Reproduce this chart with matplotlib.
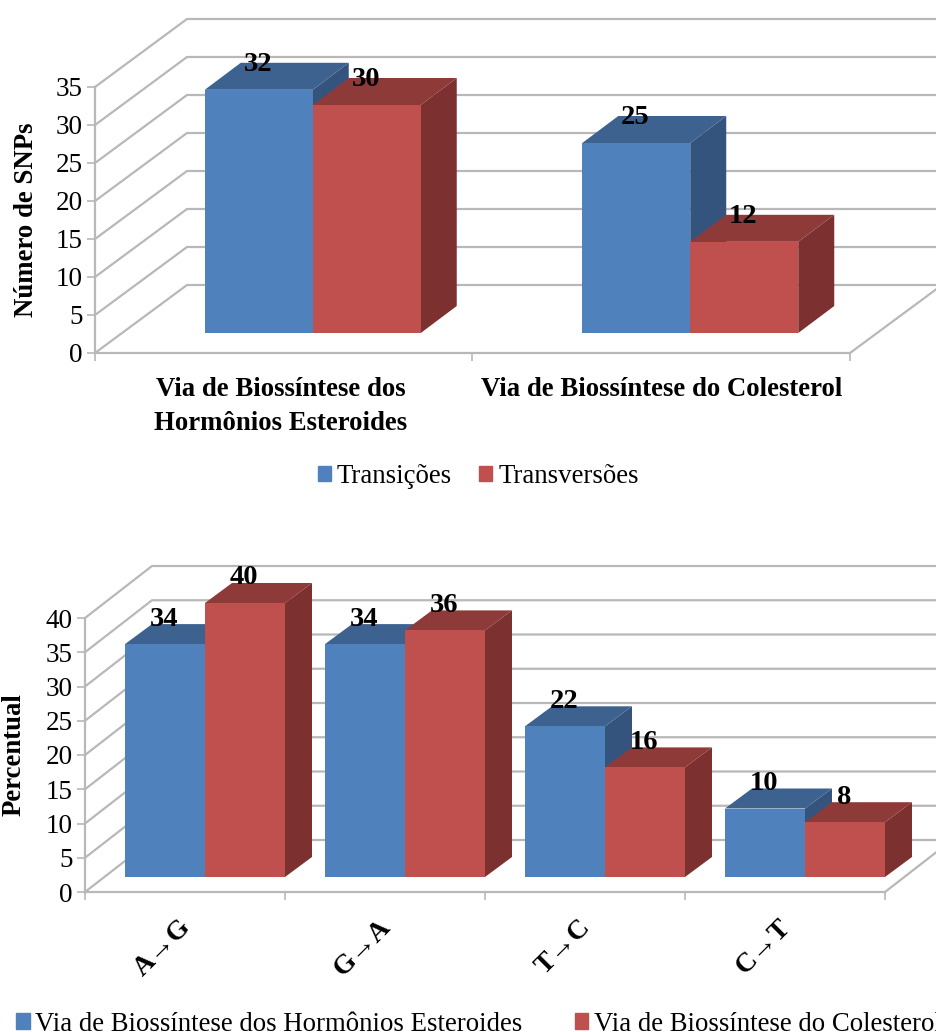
import matplotlib
matplotlib.use("Agg")
import matplotlib.pyplot as plt
from matplotlib.patches import Patch, Polygon
from matplotlib.transforms import ScaledTranslation

plt.rcParams['font.family'] = ['Liberation Serif', 'DejaVu Sans']

FIG_W = 937
FIG_H = 1032

BLUE = ('#4F81BD', '#3E6290', '#34547E')
RED = ('#C0504D', '#8E3A38', '#7C3130')
GRID = '#B8B8B8'

# top chart
snp_categories = ['Via de Biossíntese dos\nHormônios Esteroides', 'Via de Biossíntese do Colesterol']
snp_series = ['Transições', 'Transversões']
snp_transicoes = [32, 25]
snp_transversoes = [30, 12]
snp_ticks = [0, 5, 10, 15, 20, 25, 30, 35]

# bottom chart
pct_categories = ['A→G', 'G→A', 'T→C', 'C→T']
pct_series = ['Via de Biossíntese dos Hormônios Esteroides', 'Via de Biossíntese do Colesterol']
pct_hormonios = [34, 34, 22, 10]
pct_colesterol = [40, 36, 16, 8]
pct_ticks = [0, 5, 10, 15, 20, 25, 30, 35, 40]


def add_axes_px(left, right, top, bottom):
    return plt.gcf().add_axes([left / FIG_W, 1 - bottom / FIG_H,
                               (right - left) / FIG_W, (bottom - top) / FIG_H])


def draw_chart(ax, width_px, height_px, categories, series, ticks, wall, floor, depth,
               bar_px, label_gap):
    """Fake Excel 3D columns, offsets are given in pixels and converted to data units"""
    n = len(categories)
    ymax = ticks[-1]
    ax.set_xlim(0, n)
    ax.set_ylim(0, ymax)
    ux = n / width_px
    uy = ymax / height_px

    wx, wy = wall[0] * ux, wall[1] * uy
    fx, fy = floor[0] * ux, floor[1] * uy
    dx, dy = depth[0] * ux, depth[1] * uy
    bw = bar_px * ux

    # back wall and floor lines
    for t in ticks:
        ax.plot([0, wx, n + wx], [t, t + wy, t + wy], color=GRID, lw=1.6, clip_on=False, zorder=1)
    ax.plot([n, n + wx], [0, wy], color=GRID, lw=1.6, clip_on=False, zorder=1)

    for i in range(n):
        center = i + 0.5 + fx
        for j, (values, colors) in enumerate(series):
            v = values[i]
            x0 = center + (j - 1) * bw
            x1 = x0 + bw
            y0 = fy
            y1 = fy + v
            ax.add_patch(Polygon([(x1, y0), (x1 + dx, y0 + dy), (x1 + dx, y1 + dy), (x1, y1)],
                                 fc=colors[2], ec='none', clip_on=False, zorder=2 + j))
            ax.add_patch(Polygon([(x0, y1), (x0 + dx, y1 + dy), (x1 + dx, y1 + dy), (x1, y1)],
                                 fc=colors[1], ec='none', clip_on=False, zorder=2 + j))
            ax.add_patch(Polygon([(x0, y0), (x1, y0), (x1, y1), (x0, y1)],
                                 fc=colors[0], ec='none', clip_on=False, zorder=2 + j))
            ax.text((x0 + x1) / 2 - 1 * ux, y1 + dy + label_gap * uy, str(v), ha='center', va='center',
                    fontsize=20.5, fontweight='bold', zorder=10)

    for side in ['top', 'right']:
        ax.spines[side].set_visible(False)
    for side in ['left', 'bottom']:
        ax.spines[side].set_color(GRID)
        ax.spines[side].set_linewidth(1.6)
    ax.patch.set_alpha(0)
    ax.set_yticks(ticks)
    ax.set_xticks(range(n + 1))
    ax.set_xticklabels([])
    ax.tick_params(axis='both', which='major', length=6, width=1.2, color=GRID, labelsize=19.5, pad=3)


fig = plt.figure(figsize=(FIG_W / 100, FIG_H / 100), dpi=100)

# Numero de SNPs
ax1 = add_axes_px(95, 850, 87, 353)
draw_chart(ax1, 755, 266, snp_categories,
           [(snp_transicoes, BLUE), (snp_transversoes, RED)], snp_ticks,
           wall=(92, 68), floor=(29, 20), depth=(36, 27), bar_px=108, label_gap=-2)
ax1.set_xticks([0.5, 1.5], minor=True)
ax1.set_xticklabels(snp_categories, minor=True, fontsize=19.3, fontweight='bold', linespacing=1.5)
ax1.tick_params(axis='x', which='minor', length=0, pad=17)
first_label = ax1.get_xticklabels(minor=True)[0]
first_label.set_transform(first_label.get_transform() + ScaledTranslation(-3 / 100, 0, fig.dpi_scale_trans))
ax1.set_ylabel('Número de SNPs', fontsize=19.3, fontweight='bold')
ax1.yaxis.set_label_coords(-0.074, 0.5)
ax1.legend(handles=[Patch(color=BLUE[0], label=snp_series[0]), Patch(color=RED[0], label=snp_series[1])],
           loc='center left', bbox_to_anchor=(0.295, -0.466), ncol=2, frameon=False, fontsize=19.4,
           handlelength=0.48, handleheight=0.48, handletextpad=0.22, columnspacing=1.03,
           borderpad=0, borderaxespad=0)

# Percentual
ax2 = add_axes_px(85, 885, 618, 892)
draw_chart(ax2, 800, 274, pct_categories,
           [(pct_hormonios, BLUE), (pct_colesterol, RED)], pct_ticks,
           wall=(67, 52), floor=(20, 15), depth=(27, 20), bar_px=80, label_gap=5)
ax2.set_xticks([0.5, 1.5, 2.5, 3.5], minor=True)
ax2.set_xticklabels(pct_categories, minor=True, fontsize=20, fontweight='bold',
                    rotation=45, ha='center', va='top')
ax2.tick_params(axis='x', which='minor', length=0, pad=16.5)
# the rotated labels sit left of the category centre
shift = ScaledTranslation(-22 / 100, 0, fig.dpi_scale_trans)
for lab in ax2.get_xticklabels(minor=True):
    lab.set_transform(lab.get_transform() + shift)
ax2.set_ylabel('Percentual', fontsize=19.3, fontweight='bold')
ax2.yaxis.set_label_coords(-0.073, 0.5)
ax2.legend(handles=[Patch(color=BLUE[0], label=pct_series[0]), Patch(color=RED[0], label=pct_series[1])],
           loc='center left', bbox_to_anchor=(-0.086, -0.482), ncol=2, frameon=False, fontsize=19.3,
           handlelength=0.5, handleheight=0.5, handletextpad=0.22, columnspacing=1.95,
           borderpad=0, borderaxespad=0)

fig.savefig('out.png', dpi=100)
